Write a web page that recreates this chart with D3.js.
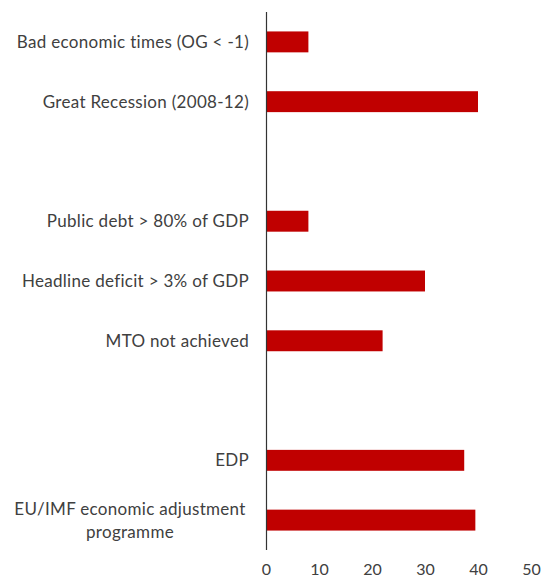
<!DOCTYPE html>
<html>
<head>
<meta charset="utf-8">
<script src="https://cdn.jsdelivr.net/npm/d3@7"></script>
<style>
  html, body { margin: 0; padding: 0; background: #fff; }
  svg { display: block; }
  text { font-family: Lato, "Open Sans", sans-serif; fill: #404040; }
</style>
</head>
<body>
<svg id="chart" width="543" height="583"></svg>
<script>
// Data
const categories = [
  "Bad economic times (OG < -1)",
  "Great Recession (2008-12)",
  "",
  "Public debt > 80% of GDP",
  "Headline deficit > 3% of GDP",
  "MTO not achieved",
  " ",
  "EDP",
  "EU/IMF economic adjustment\nprogramme"
];
const values = [8, 40, null, 8, 30, 22, null, 37.4, 39.5];
const xTicks = [0, 10, 20, 30, 40, 50];

const svg = d3.select("#chart");
const x0 = 266, x1 = 531, yTop = 12, yBot = 550;

const x = d3.scaleLinear().domain([0, 50]).range([x0, x1]);
const y = d3.scaleBand().domain(categories).range([yTop, yBot]).paddingInner(0.65).paddingOuter(0.325);

const data = categories.map((c, i) => ({ c, v: values[i] })).filter(d => d.v != null);

svg.append("g").selectAll("rect").data(data).join("rect")
  .attr("x", x(0))
  .attr("y", d => y(d.c))
  .attr("width", d => x(d.v) - x(0))
  .attr("height", y.bandwidth())
  .attr("fill", "#C00000");

// Vertical axis line
svg.append("line")
  .attr("x1", x(0) + 0.5).attr("x2", x(0) + 0.5)
  .attr("y1", yTop).attr("y2", yBot)
  .attr("stroke", "#333").attr("stroke-width", 1.2);

// Category labels
const lab = svg.append("g");
categories.forEach(c => {
  if (!c.trim()) return;
  const lines = c.split("\n");
  const cy = y(c) + y.bandwidth() / 2;
  const lh = 23;
  const t = lab.append("text")
    .attr("text-anchor", lines.length > 1 ? "middle" : "end")
    .attr("font-size", 17)
    .attr("letter-spacing", 0.3);
  lines.forEach((ln, i) => {
    t.append("tspan")
      .attr("x", lines.length > 1 ? 130 : 249)
      .attr("y", cy + (i - (lines.length - 1) / 2) * lh)
      .attr("dy", "0.35em")
      .text(ln);
  });
});

// X tick labels
const xAxis = d3.axisBottom(x).tickValues(xTicks).tickSize(0).tickPadding(0);
const gx = svg.append("g").attr("transform", `translate(0, 564)`).call(xAxis);
gx.select(".domain").remove();
gx.selectAll("text").attr("font-size", 16).attr("fill", "#404040")
  .style("font-family", "Lato, 'Open Sans', sans-serif");
</script>
</body>
</html>
